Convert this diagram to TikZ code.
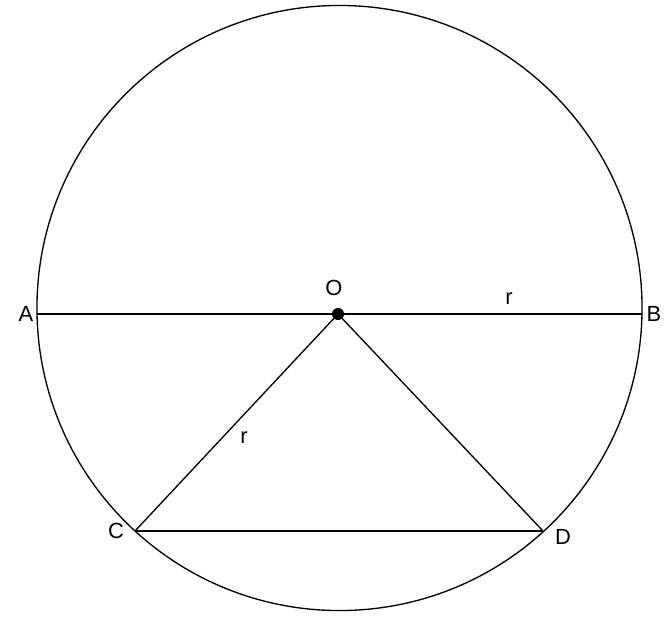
\documentclass[tikz,border=0pt]{standalone}
\usepackage{fontspec}
\setmainfont{Liberation Sans}
\usepackage{tikz}

\begin{document}
\begin{tikzpicture}[x=0.02646cm, y=-0.02646cm]
        \tikzstyle{blackEdge} = [draw=black, line width=1pt]
        \tikzstyle{ptLabel} = [inner sep=0pt, font=\fontsize{16.5}{19}\selectfont]
        \useasboundingbox (0,0) rectangle (670,618);
        \coordinate (ctr) at (339.5,308);
        \coordinate (A) at (37,314);
        \coordinate (B) at (642,314);
        \coordinate (O) at (338,314);
        \coordinate (C) at (135,531);
        \coordinate (D) at (543,531);
        \draw[blackEdge] (ctr) circle [radius=8.005cm];
        \foreach \from/\to in {A/B, O/C, O/D, C/D}
            \path[blackEdge] (\from) edge (\to);
        \fill[black] (O) circle [radius=0.16cm];
        \node[ptLabel] (lblO) at (334,288) {O};
        \node[ptLabel] (lblA) at (26,314) {A};
        \node[ptLabel] (lblB) at (654,314) {B};
        \node[ptLabel] (lblC) at (116,531) {C};
        \node[ptLabel] (lblD) at (563,537) {D};
        \node[ptLabel] (lblR1) at (509,299) {r};
        \node[ptLabel] (lblR2) at (244,438) {r};
    \end{tikzpicture}
\end{document}
